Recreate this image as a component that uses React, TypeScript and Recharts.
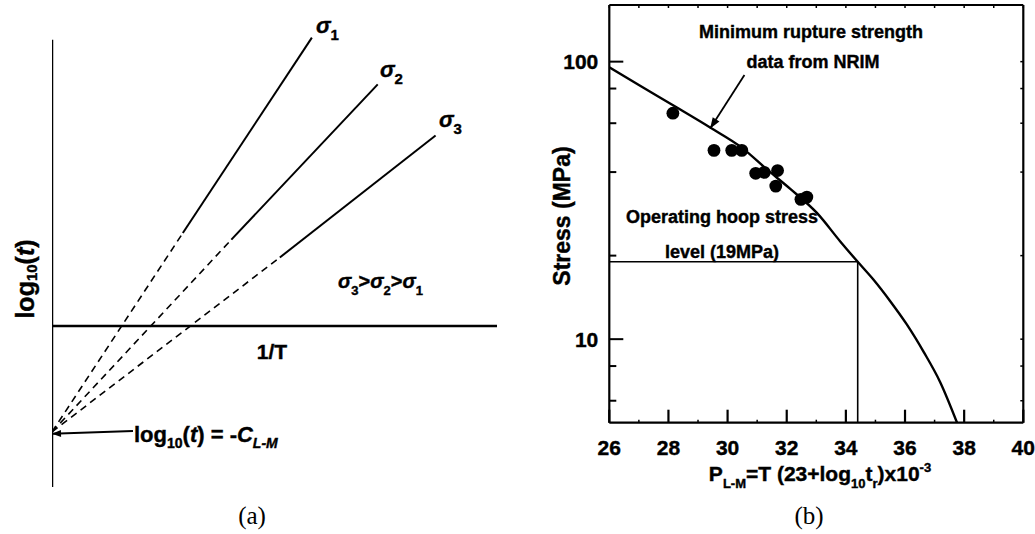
import React from 'react';
import { ComposedChart, Line, Scatter, XAxis, YAxis, ReferenceLine } from 'recharts';

const FONT = '"Liberation Sans", Arial, Helvetica, sans-serif';
const SERIF = '"Liberation Serif", "Times New Roman", serif';

// ---------- Panel (a): schematic, arbitrary units (x = 1/T, y = log10 t) ----------
const sigma1Solid = [{ x: 2.94, y: 2.09 }, { x: 5.84, y: 6.48 }];
const sigma2Solid = [{ x: 4.03, y: 1.94 }, { x: 7.32, y: 5.43 }];
const sigma3Solid = [{ x: 5.12, y: 1.54 }, { x: 8.62, y: 4.28 }];
const sigma1Dashed = [{ x: 0, y: -2.38 }, { x: 2.94, y: 2.09 }];
const sigma2Dashed = [{ x: 0, y: -2.38 }, { x: 4.03, y: 1.94 }];
const sigma3Dashed = [{ x: 0, y: -2.38 }, { x: 5.12, y: 1.54 }];
const aHorizontalAxis = [{ x: 0, y: 0 }, { x: 10, y: 0 }];
const aVerticalAxis = [{ x: 0, y: -3.62 }, { x: 0, y: 6.43 }];
const aInterceptArrow = [{ x: 1.82, y: -2.36 }, { x: 0.0, y: -2.42 }];

// ---------- Panel (b): Larson-Miller plot ----------
const pAllTicks = [26, 27, 28, 29, 30, 31, 32, 33, 34, 35, 36, 37, 38, 39, 40];
const pLabels = [26, 28, 30, 32, 34, 36, 38, 40];
const stressTicks = [6, 8, 10, 20, 40, 60, 80, 100];
const stressLabels = [10, 100];

const curveP = [26.0, 27.0, 28.17, 29.41, 30.48, 31.33, 32.12, 33.02, 33.81, 34.4, 34.93, 35.5, 36.06, 36.63, 37.19, 37.76];
const curveS = [95.4, 82.4, 69.5, 57.9, 49.0, 40.9, 34.8, 28.5, 22.5, 19.0, 16.4, 13.7, 11.3, 9.0, 7.0, 5.0];

const pointP = [28.15, 29.54, 30.14, 30.48, 30.95, 31.24, 31.69, 31.63, 32.48, 32.68];
const pointS = [65.2, 47.9, 47.9, 47.9, 39.6, 39.9, 40.5, 35.6, 31.9, 32.5];

const hoopStress = 19;
const hoopP = 34.4;
const stressMin = 5;
const stressMax = 160;
const pMin = 26;
const pMax = 40;

const nrimArrowP = [30.57, 29.41];
const nrimArrowS = [89.5, 57.4];

const curveData = curveP.map((p, i) => ({ p, s: curveS[i] }));
const pointData = pointP.map((p, i) => ({ p, s: pointS[i] }));
const nrimArrow = nrimArrowP.map((p, i) => ({ p, s: nrimArrowS[i] }));

// Panel (b) layout
const B_W = 515;
const B_H = 534;
const B_MARGIN = { top: 4, right: 10.7, bottom: 81.3, left: 29.3 };
const B_TOP_AXIS_H = 1;
const B_BOTTOM_AXIS_H = 30;
const B_PLOT_H = B_H - B_MARGIN.top - B_MARGIN.bottom - B_TOP_AXIS_H - B_BOTTOM_AXIS_H;

function makeArrowHead(len: number, half: number) {
  const prev = { x: 0, y: 0 };
  return (props: any) => {
    const { cx, cy, index } = props;
    if (index === 0) {
      prev.x = cx;
      prev.y = cy;
      return <g key={`ah-${index}`} />;
    }
    const ang = Math.atan2(cy - prev.y, cx - prev.x);
    const bx = cx - len * Math.cos(ang);
    const by = cy - len * Math.sin(ang);
    const px = -Math.sin(ang) * half;
    const py = Math.cos(ang) * half;
    return (
      <polygon
        key={`ah-${index}`}
        points={`${cx},${cy} ${bx + px},${by + py} ${bx - px},${by - py}`}
        fill="#000"
      />
    );
  };
}

const HEAVY = { fontFamily: FONT, fontWeight: 'bold' as const, fill: '#000', stroke: '#000', strokeWidth: 0.4 };

const BottomTick = (props: any) => {
  const { x, y, payload } = props;
  const v = payload.value;
  const major = pLabels.includes(v);
  if (!major) return <g />;
  return (
    <text x={x} y={y + 32} textAnchor="middle" fontSize={21} {...HEAVY}>
      {v}
    </text>
  );
};

// top-axis ticks; also draws the inward bottom-axis tick marks at the same scale positions
const TopTick = (props: any) => {
  const { x, y, payload } = props;
  const major = pLabels.includes(payload.value);
  const yb = y + B_PLOT_H;
  return (
    <g>
      <line x1={x} x2={x} y1={y} y2={y + 3} stroke="#000" strokeWidth={1.5} />
      <line x1={x} x2={x} y1={yb} y2={yb - (major ? 13 : 3)} stroke="#000" strokeWidth={major ? 2.2 : 1.5} />
    </g>
  );
};

const LeftTick = (props: any) => {
  const { x, y, payload } = props;
  const v = payload.value;
  const major = stressLabels.includes(v);
  return (
    <g>
      <line x1={x} x2={x + (major ? 14 : 7)} y1={y} y2={y} stroke="#000" strokeWidth={2} />
      {major && (
        <text x={x - 11} y={y + 7.5} textAnchor="end" fontSize={21} {...HEAVY}>
          {v}
        </text>
      )}
    </g>
  );
};

const RightTick = (props: any) => {
  const { x, y } = props;
  return <line x1={x} x2={x - 3} y1={y} y2={y} stroke="#000" strokeWidth={1.5} />;
};

const dotShape = (p: any) => <circle cx={p.cx} cy={p.cy} r={6.4} fill="#000" />;

function PanelA() {
  const common = { type: 'linear' as const, dataKey: 'y', dot: false, isAnimationActive: false, stroke: '#000' };
  return (
    <ComposedChart width={520} height={534} margin={{ top: 14.5, right: 23, bottom: 30, left: 52 }}>
      <XAxis dataKey="x" type="number" domain={[0, 10]} hide allowDataOverflow />
      <YAxis type="number" domain={[-4, 7]} hide allowDataOverflow />
      <Line {...common} data={aVerticalAxis} strokeWidth={2.5} />
      <Line {...common} data={aHorizontalAxis} strokeWidth={2.5} />
      <Line {...common} data={sigma1Solid} strokeWidth={2} />
      <Line {...common} data={sigma2Solid} strokeWidth={2} />
      <Line {...common} data={sigma3Solid} strokeWidth={2} />
      <Line {...common} data={sigma1Dashed} strokeWidth={1.6} strokeDasharray="7 5" />
      <Line {...common} data={sigma2Dashed} strokeWidth={1.6} strokeDasharray="7 5" />
      <Line {...common} data={sigma3Dashed} strokeWidth={1.6} strokeDasharray="7 5" />
      <Line {...common} data={aInterceptArrow} strokeWidth={2} dot={makeArrowHead(9, 3.5)} />
    </ComposedChart>
  );
}

function PanelB() {
  return (
    <ComposedChart width={B_W} height={B_H} margin={B_MARGIN}>
      <XAxis
        dataKey="p"
        type="number"
        domain={[pMin, pMax]}
        ticks={pAllTicks}
        interval={0}
        height={B_BOTTOM_AXIS_H}
        tickSize={0}
        tickMargin={0}
        tickLine={false}
        tick={BottomTick}
        axisLine={{ stroke: '#000', strokeWidth: 2.2 }}
        allowDataOverflow
      />
      <XAxis
        xAxisId="top"
        dataKey="p"
        orientation="top"
        type="number"
        domain={[pMin, pMax]}
        ticks={pAllTicks}
        interval={0}
        height={B_TOP_AXIS_H}
        tickSize={0}
        tickMargin={0}
        tickLine={false}
        tick={TopTick}
        axisLine={{ stroke: '#000', strokeWidth: 2.2 }}
        allowDataOverflow
      />
      <YAxis
        type="number"
        scale="log"
        domain={[stressMin, stressMax]}
        ticks={stressTicks}
        interval={0}
        width={60}
        tickSize={0}
        tickMargin={0}
        tickLine={false}
        tick={LeftTick}
        axisLine={{ stroke: '#000', strokeWidth: 2.2 }}
        allowDataOverflow
      />
      <YAxis
        yAxisId="right"
        orientation="right"
        type="number"
        scale="log"
        domain={[stressMin, stressMax]}
        ticks={stressTicks}
        interval={0}
        width={1}
        tickSize={0}
        tickMargin={0}
        tickLine={false}
        tick={RightTick}
        axisLine={{ stroke: '#000', strokeWidth: 2.2 }}
        allowDataOverflow
      />
      <ReferenceLine
        segment={[{ x: pMin, y: hoopStress }, { x: hoopP, y: hoopStress }]}
        stroke="#000"
        strokeWidth={1.4}
        ifOverflow="visible"
      />
      <ReferenceLine
        segment={[{ x: hoopP, y: hoopStress }, { x: hoopP, y: stressMin }]}
        stroke="#000"
        strokeWidth={1.6}
        ifOverflow="visible"
      />
      <Line data={curveData} dataKey="s" type="monotone" stroke="#000" strokeWidth={2.4} dot={false} isAnimationActive={false} />
      <Line data={nrimArrow} dataKey="s" type="linear" stroke="#000" strokeWidth={1.8} dot={makeArrowHead(11, 4)} isAnimationActive={false} />
      <Scatter data={pointData} dataKey="s" fill="#000" shape={dotShape} isAnimationActive={false} />
    </ComposedChart>
  );
}

function Overlay() {
  const bold = HEAVY;
  return (
    <svg width={1035} height={534} style={{ position: 'absolute', left: 0, top: 0, pointerEvents: 'none' }}>
      {/* Panel (a) labels */}
      <text x={316} y={33} fontSize={22} fontStyle="italic" {...bold}>
        σ<tspan fontSize={15} dy={7} fontStyle="normal">1</tspan>
      </text>
      <text x={380} y={77} fontSize={22} fontStyle="italic" {...bold}>
        σ<tspan fontSize={15} dy={7} fontStyle="normal">2</tspan>
      </text>
      <text x={439} y={127} fontSize={22} fontStyle="italic" {...bold}>
        σ<tspan fontSize={15} dy={7} fontStyle="normal">3</tspan>
      </text>
      <text x={338} y={288} fontSize={20} {...bold}>
        <tspan fontStyle="italic">σ</tspan>
        <tspan fontSize={13} dy={7}>3</tspan>
        <tspan dy={-7}>&gt;</tspan>
        <tspan fontStyle="italic">σ</tspan>
        <tspan fontSize={13} dy={7}>2</tspan>
        <tspan dy={-7}>&gt;</tspan>
        <tspan fontStyle="italic">σ</tspan>
        <tspan fontSize={13} dy={7}>1</tspan>
      </text>
      <text x={272} y={359} fontSize={21} textAnchor="middle" {...bold}>1/T</text>
      <text
        x={25}
        y={279}
        fontSize={25}
        textAnchor="middle"
        dominantBaseline="central"
        transform="rotate(-90 25 279)"
        {...bold}
      >
        log<tspan fontSize={15} dy={6}>10</tspan>
        <tspan dy={-6}>(</tspan>
        <tspan fontStyle="italic">t</tspan>)
      </text>
      <text x={134} y={442} fontSize={22} {...bold}>
        log<tspan fontSize={14} dy={6}>10</tspan>
        <tspan dy={-6}>(</tspan>
        <tspan fontStyle="italic">t</tspan>
        <tspan>) = -</tspan>
        <tspan fontStyle="italic">C</tspan>
        <tspan fontSize={14} dy={6} fontStyle="italic">L-M</tspan>
      </text>
      <text x={252} y={524} fontSize={25} textAnchor="middle" fontFamily={SERIF} fill="#000">(a)</text>

      {/* Panel (b) labels */}
      <text x={811} y={38} fontSize={18} textAnchor="middle" {...bold}>Minimum rupture strength</text>
      <text x={813} y={68} fontSize={18} textAnchor="middle" {...bold}>data from NRIM</text>
      <text x={722} y={223} fontSize={18} textAnchor="middle" {...bold}>Operating hoop stress</text>
      <text x={722} y={258} fontSize={18} textAnchor="middle" {...bold}>level (19MPa)</text>
      <text
        x={562}
        y={216}
        fontSize={23}
        textAnchor="middle"
        dominantBaseline="central"
        transform="rotate(-90 562 216)"
        {...bold}
      >
        Stress (MPa)
      </text>
      <text x={820} y={481} fontSize={21} textAnchor="middle" {...bold}>
        P<tspan fontSize={13} dy={7}>L-M</tspan>
        <tspan dy={-7}>=T (23+log</tspan>
        <tspan fontSize={13} dy={7}>10</tspan>
        <tspan dy={-7}>t</tspan>
        <tspan fontSize={13} dy={7}>r</tspan>
        <tspan dy={-7}>)x10</tspan>
        <tspan fontSize={13} dy={-9}>-3</tspan>
      </text>
      <text x={809} y={524} fontSize={25} textAnchor="middle" fontFamily={SERIF} fill="#000">(b)</text>
    </svg>
  );
}

export default function App() {
  return (
    <div style={{ position: 'absolute', left: 0, top: 0, width: 1035, height: 534, background: '#fff', overflow: 'hidden' }}>
      <div style={{ position: 'absolute', left: 0, top: 0 }}>
        <PanelA />
      </div>
      <div style={{ position: 'absolute', left: 520, top: 0 }}>
        <PanelB />
      </div>
      <Overlay />
    </div>
  );
}
